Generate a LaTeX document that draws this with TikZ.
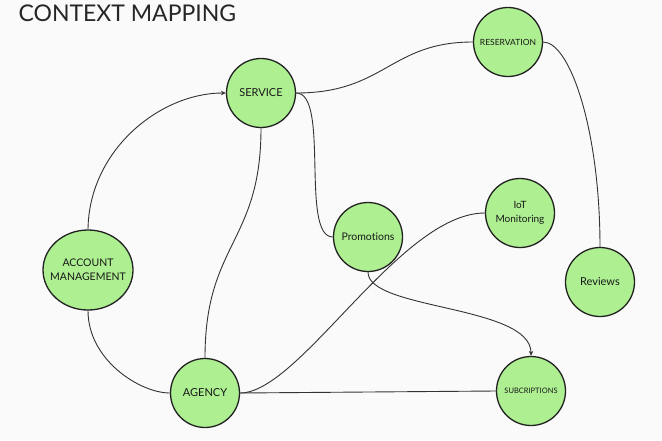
\documentclass[tikz,border=0pt]{standalone}
\usepackage{fontspec}
\setmainfont{Lato}[Ligatures=NoCommon]
\usetikzlibrary{arrows.meta,shapes.geometric}
\definecolor{bg}{HTML}{FAFAFA}
\definecolor{nodegreen}{HTML}{ADEF91}
\definecolor{edgecol}{HTML}{333333}
\definecolor{ringcol}{HTML}{222222}
\begin{document}
\begin{tikzpicture}[x=1pt,y=-1pt,
  ctx/.style={circle,draw=ringcol,line width=1.3pt,fill=nodegreen,minimum size=69pt,inner sep=0pt,align=center,text=black!90},
  link/.style={draw=edgecol,line width=0.9pt},
  arr/.style={link,-{Stealth[length=5pt,width=4.5pt]}}]
\fill[bg] (0,0) rectangle (662,440);
\useasboundingbox (0,0) rectangle (662,440);
\node[anchor=west,font=\fontsize{23}{26}\selectfont,text=black!85] (title) at (15,13) {CONTEXT MAPPING};
\node[ctx,font=\fontsize{11}{13}\selectfont] (service) at (261,93) {SERVICE};
\node[ctx,font=\fontsize{8.5}{10}\selectfont] (reservation) at (508,42) {RESERVATION};
\node[ctx,font=\fontsize{10.5}{12}\selectfont] (promotions) at (368,237) {Promotions};
\node[ctx,font=\fontsize{10}{14}\selectfont] (iot) at (520,213) {IoT\\Monitoring};
\node[ctx,ellipse,minimum width=90pt,minimum height=80pt,
  label={[align=center,text=black!90,font=\fontsize{10.5}{14}\selectfont]center:ACCOUNT\\MANAGEMENT}] (account) at (88,270) {};
\node[ctx,font=\fontsize{11}{13}\selectfont] (agency) at (205,393) {AGENCY};
\node[ctx,font=\fontsize{11}{13}\selectfont] (reviews) at (600,282) {Reviews};
\node[ctx,font=\fontsize{7.5}{9}\selectfont] (subs) at (531,391) {SUBCRIPTIONS};
% connectors
\draw[arr] (account.north) .. controls (89,150) and (160,93) .. (service.west);
\draw[link] (account.south) .. controls (88,360) and (140,393) .. (agency.west);
\draw[link] (service.south) .. controls (261,243) and (205,243) .. (agency.north);
\draw[link] (service.east) .. controls (385,93) and (390,42) .. (reservation.west);
\draw[link] (service.east) .. controls (330,93) and (300,237) .. (promotions.west);
\draw[link] (reservation.east) .. controls (570,42) and (600,130) .. (reviews.north);
\draw[arr] (promotions.south) .. controls (368,310) and (531,305) .. (subs.north);
\draw[link] (agency.east) .. controls (300,393) and (400,213) .. (iot.west);
\draw[link] (agency.east) -- (subs.west);
\end{tikzpicture}
\end{document}
